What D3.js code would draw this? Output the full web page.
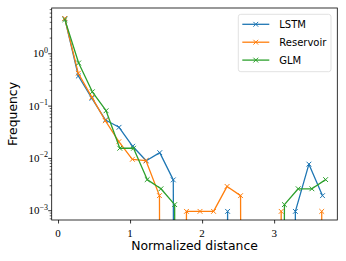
<!DOCTYPE html>
<html><head><meta charset="utf-8">
<script src="https://cdn.jsdelivr.net/npm/d3@7/dist/d3.min.js"></script>
<style>body{margin:0;background:#fff}svg{display:block}</style></head>
<body><svg id="c" width="346" height="261"></svg>
<script>
const seriesNames = ["LSTM", "Reservoir", "GLM"];
const seriesColors = ["#1f77b4", "#ff7f0e", "#2ca02c"];

const lstmX = [0.094,0.282,0.471,0.659,0.847,1.036,1.224,1.412,1.600,1.789,1.977,2.165,2.354,2.542,2.730,2.918,3.107,3.295,3.483,3.672];
const lstmY = [4.6,0.368,0.138,0.053,0.0385,0.0167,0.0088,0.0126,0.0038,0,0,0,0.00095,0,0,0,0,0.00095,0.0076,0.0019];

const reservoirX = [0.093,0.281,0.469,0.657,0.844,1.032,1.220,1.408,1.596,1.783,1.971,2.159,2.347,2.534,2.722,2.910,3.098,3.286,3.474,3.661];
const reservoirY = [4.65,0.415,0.145,0.0514,0.0204,0.0094,0.0089,0.0019,0,0.00095,0.00095,0.00095,0.00285,0.0019,0,0,0.00095,0,0,0.00095];

const glmX = [0.095,0.286,0.476,0.667,0.857,1.048,1.238,1.429,1.619,1.810,2.000,2.191,2.381,2.572,2.762,2.953,3.143,3.334,3.524,3.715];
const glmY = [4.4,0.653,0.184,0.0798,0.0153,0.0153,0.00385,0.00257,0.00128,0,0,0,0,0,0,0,0.00128,0.00257,0.00257,0.00385];

const xTickValues = [0, 1, 2, 3];
const xTickLabels = ["0", "1", "2", "3"];
const yTickValues = [1e-3, 1e-2, 1e-1, 1];
const yTickExponents = ["\u22123", "\u22122", "\u22121", "0"];
const xLabel = "Normalized distance";
const yLabel = "Frequency";

const xs = [lstmX, reservoirX, glmX];
const ys = [lstmY, reservoirY, glmY];

const L = 51.7, R = 337.3, T = 8, B = 220;
const svg = d3.select("#c");
const x = d3.scaleLinear().domain([-0.088, 3.877]).range([L, R]);
const y = d3.scaleLog().domain([6.5e-4, 7.35]).range([B, T]);
const floorVal = 1e-100;

svg.append("defs").append("clipPath").attr("id", "clip")
  .append("rect").attr("x", L).attr("y", T).attr("width", R - L).attr("height", B - T);

const plot = svg.append("g").attr("clip-path", "url(#clip)");
const line = d3.line().x(d => x(d[0])).y(d => y(d[1] > 0 ? d[1] : floorVal));

seriesNames.forEach((name, i) => {
  const pts = xs[i].map((v, j) => [v, ys[i][j]]);
  plot.append("path").datum(pts).attr("d", line)
    .attr("fill", "none").attr("stroke", seriesColors[i]).attr("stroke-width", 1.3)
    .attr("stroke-linejoin", "round");
  const s = 2.4;
  plot.append("g").selectAll("path").data(pts.filter(p => p[1] > 0)).join("path")
    .attr("d", p => { const cx = x(p[0]), cy = y(p[1]);
      return `M${cx-s},${cy-s}L${cx+s},${cy+s}M${cx-s},${cy+s}L${cx+s},${cy-s}`; })
    .attr("stroke", seriesColors[i]).attr("stroke-width", 1).attr("fill", "none");
});

// Axes
const xAxis = svg.append("g").attr("transform", `translate(0,${B})`)
  .call(d3.axisBottom(x).tickValues(xTickValues).tickSize(3.5).tickFormat(""));
xAxis.select(".domain").remove();
xAxis.selectAll("line").attr("stroke", "#000").attr("stroke-width", 0.8);
xTickValues.forEach((v, i) => {
  svg.append("text").attr("x", x(v)).attr("y", 237).attr("text-anchor", "middle")
    .attr("font-family", "Liberation Serif").attr("font-size", 11).text(xTickLabels[i]);
});

const yAxis = svg.append("g").attr("transform", `translate(${L},0)`)
  .call(d3.axisLeft(y).tickValues(yTickValues).tickSize(3.5).tickFormat(""));
yAxis.select(".domain").remove();
yAxis.selectAll("line").attr("stroke", "#000").attr("stroke-width", 0.8);
const minor = y.ticks().filter(t => !yTickValues.some(m => Math.abs(Math.log10(t) - Math.log10(m)) < 1e-6));
const yMinor = svg.append("g").attr("transform", `translate(${L},0)`)
  .call(d3.axisLeft(y).tickValues(minor).tickSize(2).tickFormat(""));
yMinor.select(".domain").remove();
yMinor.selectAll("line").attr("stroke", "#000").attr("stroke-width", 0.6);

yTickValues.forEach((v, i) => {
  const t = svg.append("text").attr("x", 48).attr("y", y(v) + 4)
    .attr("text-anchor", "end").attr("font-family", "Liberation Serif").attr("font-size", 11);
  t.append("tspan").text("10");
  t.append("tspan").attr("dy", -4.5).attr("font-size", 8).text(yTickExponents[i]);
});

// Frame
svg.append("rect").attr("x", L).attr("y", T).attr("width", R - L).attr("height", B - T)
  .attr("fill", "none").attr("stroke", "#000").attr("stroke-width", 0.8);

// Axis labels
svg.append("text").attr("x", (L + R) / 2).attr("y", 250).attr("text-anchor", "middle")
  .attr("font-family", "DejaVu Sans").attr("font-size", 12.4).text(xLabel);
svg.append("text").attr("transform", `translate(17,${(T + B) / 2}) rotate(-90)`)
  .attr("text-anchor", "middle").attr("font-family", "DejaVu Sans").attr("font-size", 12.4).text(yLabel);

// Legend
const lg = svg.append("g");
lg.append("rect").attr("x", 238.3).attr("y", 14.3).attr("width", 92.7).attr("height", 57.4)
  .attr("rx", 2.5).attr("fill", "#fff").attr("fill-opacity", 0.8).attr("stroke", "#d9d9d9").attr("stroke-width", 0.8);
seriesNames.forEach((name, i) => {
  const ly = 24.3 + i * 17.9;
  lg.append("line").attr("x1", 242.3).attr("x2", 269.3).attr("y1", ly).attr("y2", ly)
    .attr("stroke", seriesColors[i]).attr("stroke-width", 1.3);
  const cx = 255.8, s = 2.4;
  lg.append("path").attr("d", `M${cx-s},${ly-s}L${cx+s},${ly+s}M${cx-s},${ly+s}L${cx+s},${ly-s}`)
    .attr("stroke", seriesColors[i]).attr("stroke-width", 1);
  lg.append("text").attr("x", 279.3).attr("y", ly + 3.6).attr("font-family", "DejaVu Sans")
    .attr("font-size", 10).text(name);
});
</script></body></html>
